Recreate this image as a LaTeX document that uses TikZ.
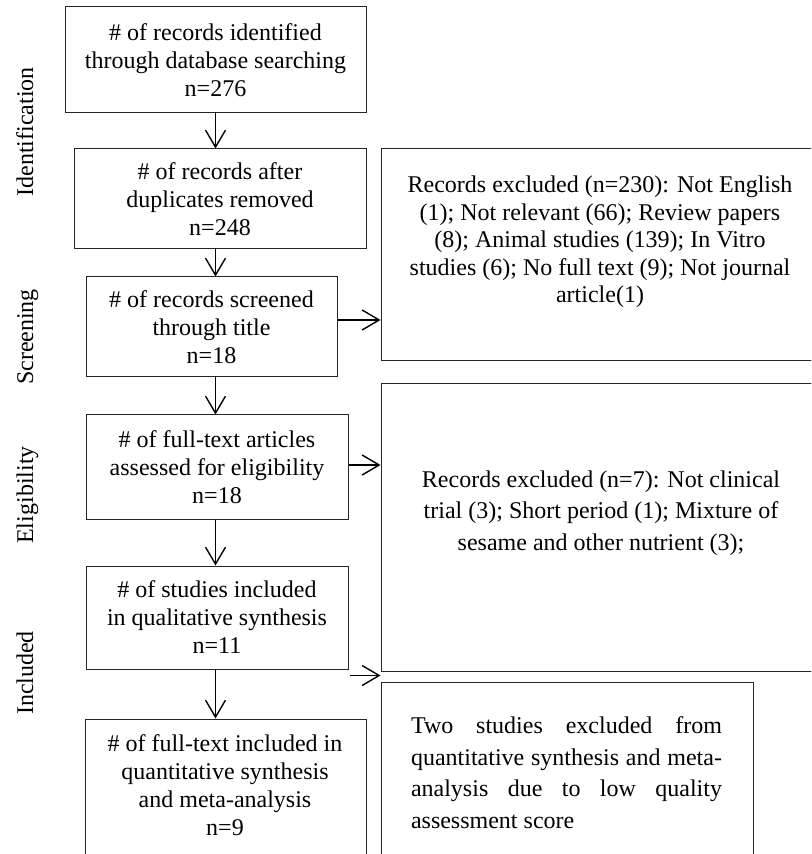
\documentclass[tikz,border=0pt]{standalone}
\usepackage{fontspec}
\setmainfont{Liberation Serif}
\usetikzlibrary{arrows.meta}
\begin{document}
\begin{tikzpicture}[x=0.5pt,y=-0.5pt,
  every node/.style={font=\fontsize{12}{14}\selectfont},
  box/.style={draw=black!85, line width=0.5pt, inner sep=0pt, align=center},
  txt/.style={inner sep=0pt, align=center},
  phase/.style={inner sep=0pt, rotate=90, anchor=base},
  arr/.style={draw=black, line width=0.7pt, -{Straight Barb[length=8.5pt,width=10pt]}}]
\useasboundingbox (0,0) rectangle (811,854);
\clip (0,0) rectangle (811,854);
\fill[white] (0,0) rectangle (811,854);

% phase labels
\node[phase] (lid) at (33,132) {Identification};
\node[phase] (lsc) at (33,337) {Screening};
\node[phase] (lel) at (33,495) {Eligibility};
\node[phase] (lin) at (33,673) {Included};

% left column
\node[box, minimum width=150.5pt, minimum height=53pt] (b1) at (215.5,60)
  {\# of records identified\\through database searching\\n=276};
\node[box, minimum width=146pt, minimum height=50pt] (b2) at (220,199)
  {\# of records after\\duplicates removed\\n=248};
\node[box, minimum width=125.5pt, minimum height=50pt] (b3) at (211.5,327)
  {\# of records screened\\through title\\n=18};
\node[box, minimum width=131pt, minimum height=52pt] (b4) at (217,467)
  {\# of full-text articles\\assessed for eligibility\\n=18};
\node[box, minimum width=131pt, minimum height=51.5pt] (b5) at (217,617.5)
  {\# of studies included\\in qualitative synthesis\\n=11};
\node[box, minimum width=140.5pt, minimum height=85.5pt] (b6) at (225.5,804.5) {};
\node[txt] (t6) at (225,785)
  {\# of full-text included in\\quantitative synthesis\\and meta-analysis\\n=9};

% right column
\node[box, minimum width=219pt, minimum height=106pt] (r1) at (600,255) {};
\node[txt, font=\fontsize{12}{13.75}\selectfont] (tr1) at (600,242)
  {Records excluded (n=230): Not English\\(1); Not relevant (66); Review papers\\(8); Animal studies (139); In Vitro\\studies (6); No full text (9); Not journal\\article(1)};
\node[box, minimum width=219pt, minimum height=143.5pt] (r2) at (600,527.5) {};
\node[txt, font=\fontsize{12}{15.75}\selectfont] (tr2) at (601,513)
  {Records excluded (n=7): Not clinical\\trial (3); Short period (1); Mixture of\\sesame and other nutrient (3);};
\node[box, minimum width=186pt, minimum height=104pt] (r3) at (567,786) {};
\node[txt, font=\fontsize{12}{15.75}\selectfont] (tr3) at (566.5,772.5)
  {\makebox[155.5pt][s]{Two studies excluded from}\\
   \makebox[155.5pt][s]{quantitative synthesis and meta-}\\
   \makebox[155.5pt][s]{analysis due to low quality}\\
   \makebox[155.5pt][l]{assessment score}};

% vertical arrows
\draw[arr] (b1.south) -- (b1.south |- b2.north);
\draw[arr] (b2.south -| b1.south) -- (b1.south |- b3.north);
\draw[arr] (b3.south -| b1.south) -- (b1.south |- b4.north);
\draw[arr] (b4.south -| b1.south) -- (b1.south |- b5.north);
\draw[arr] (b5.south -| b1.south) -- (b1.south |- b6.north);

% horizontal arrows
\draw[arr] ([yshift=3.5pt]b3.east) -- ([yshift=3.5pt]b3.east -| r1.west);
\draw[arr] ([yshift=1pt]b4.east) -- ([yshift=1pt]b4.east -| r2.west);
\coordinate (c5) at ([xshift=0.5pt,yshift=-3pt]b5.south east);
\draw[arr] (c5) -- (c5 -| r2.west);
\end{tikzpicture}
\end{document}
